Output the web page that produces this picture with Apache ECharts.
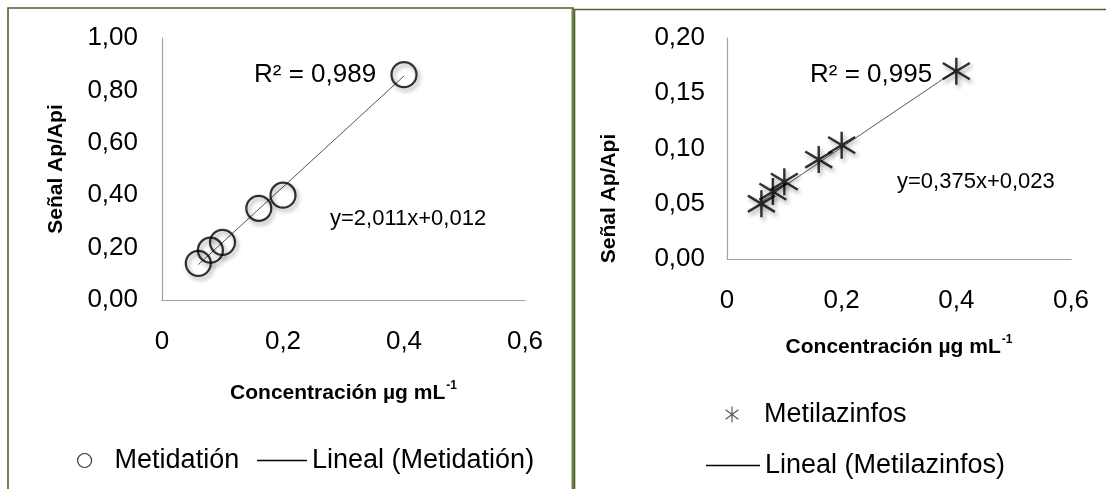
<!DOCTYPE html>
<html>
<head>
<meta charset="utf-8">
<script src="https://cdn.jsdelivr.net/npm/echarts@6/dist/echarts.min.js"></script>
<style>
html,body{margin:0;padding:0;background:#fff;}
#c{width:1106px;height:489px;}
</style>
</head>
<body>
<div id="c"></div>
<script>
// ---- data ----
const concentrations = [0.06, 0.08, 0.10, 0.16, 0.20, 0.40];
const metidation = [0.14, 0.19, 0.22, 0.35, 0.40, 0.86];
const metilazinfos = [0.05, 0.061, 0.07, 0.09, 0.103, 0.17];
const trendRange = [0.06, 0.40];
const trendMetidation = [0.135, 0.855];
const trendMetilazinfos = [0.052, 0.171];
const xTickLabels = ['0', '0,2', '0,4', '0,6'];
const leftYTickLabels = ['0,00', '0,20', '0,40', '0,60', '0,80', '1,00'];
const rightYTickLabels = ['0,00', '0,05', '0,10', '0,15', '0,20'];
const annotations = {
  r2Left: 'R² = 0,989', eqLeft: 'y=2,011x+0,012',
  r2Right: 'R² = 0,995', eqRight: 'y=0,375x+0,023'
};
const names = ['Metidatión', 'Lineal (Metidatión)', 'Metilazinfos', 'Lineal (Metilazinfos)'];

const FONT = '"Liberation Sans", Arial, sans-serif';
const starPath = 'path://M10,0L10,20M2,4L18,16M2,16L18,4';

function pairs(xs, ys) { return xs.map((x, i) => [x, ys[i]]); }

const chart = echarts.init(document.getElementById('c'));

function xAxisCfg(gi) {
  return {
    gridIndex: gi, type: 'value', min: 0, max: 0.6, interval: 0.2,
    axisLine: { show: true, lineStyle: { color: '#a0a0a0', width: 1.2 } },
    axisTick: { show: false }, splitLine: { show: false },
    axisLabel: { margin: 29, fontSize: 26, color: '#000', fontFamily: FONT,
      formatter: (v) => xTickLabels[Math.round(v / 0.2)] },
    name: '{a|Concentración µg mL}{s|-1}', nameLocation: 'middle', nameGap: gi === 0 ? 80 : 75,
    nameTextStyle: { fontFamily: FONT, rich: {
      a: { fontSize: 21, fontWeight: 'bold', color: '#000', fontFamily: FONT, lineHeight: 24, verticalAlign: 'bottom' },
      s: { fontSize: 12, fontWeight: 'bold', color: '#000', fontFamily: FONT, lineHeight: 24, verticalAlign: 'top', padding: [0, 0, 9, 1] }
    } }
  };
}
function yAxisCfg(gi, max, interval, labels, gap, margin, pad) {
  return {
    gridIndex: gi, type: 'value', min: 0, max: max, interval: interval,
    axisLine: { show: true, lineStyle: { color: '#a0a0a0', width: 1.2 } },
    axisTick: { show: false }, splitLine: { show: false },
    axisLabel: { margin: margin, fontSize: 26, color: '#000', fontFamily: FONT,
      formatter: (v) => labels[Math.round(v / interval)] },
    name: 'Señal Ap/Api', nameLocation: 'middle', nameGap: gap, nameRotate: 90,
    nameTextStyle: { fontSize: 21, fontWeight: 'bold', color: '#000', fontFamily: FONT, padding: pad }
  };
}

const shadow = { shadowBlur: 4, shadowColor: 'rgba(0,0,0,0.45)', shadowOffsetX: 2, shadowOffsetY: 3 };
const legendText = { fontSize: 27, color: '#000', fontFamily: FONT };

const option = {
  backgroundColor: '#fff',
  animation: false,
  textStyle: { fontFamily: FONT },
  grid: [
    { left: 162, top: 38, width: 363, height: 262 },
    { left: 727, top: 38, width: 344, height: 221 }
  ],
  xAxis: [xAxisCfg(0), xAxisCfg(1)],
  yAxis: [
    yAxisCfg(0, 1.0, 0.2, leftYTickLabels, 95, 24, [0, 0, 0, 0]),
    yAxisCfg(1, 0.2, 0.05, rightYTickLabels, 107, 22, [0, 100, 0, 0])
  ],
  legend: [
    { data: [{ name: names[0], icon: 'circle', itemStyle: { color: '#fff', borderColor: '#000', borderWidth: 1.2 } }],
      left: 77, top: 447, padding: 0, itemWidth: 14, itemHeight: 14,
      textStyle: Object.assign({ padding: [0, 0, 0, 18] }, legendText) },
    { data: [{ name: names[1], icon: 'rect', itemStyle: { color: '#000' } }],
      left: 257, top: 447, padding: 0, itemWidth: 50, itemHeight: 1.3,
      textStyle: legendText },
    { data: [{ name: names[2], icon: starPath, itemStyle: { color: 'transparent', borderColor: '#333', borderWidth: 1.2 } }],
      left: 725, top: 401, padding: 0, itemWidth: 16, itemHeight: 16,
      textStyle: Object.assign({ padding: [0, 0, 0, 19] }, legendText) },
    { data: [{ name: names[3], icon: 'rect', itemStyle: { color: '#000' } }],
      left: 706, top: 452, padding: 0, itemWidth: 54, itemHeight: 1.3,
      textStyle: legendText }
  ],
  series: [
    { name: names[1], type: 'line', xAxisIndex: 0, yAxisIndex: 0, data: pairs(trendRange, trendMetidation),
      symbol: 'none', color: '#000', lineStyle: { color: '#555', width: 1 }, z: 2 },
    { name: names[0], type: 'scatter', xAxisIndex: 0, yAxisIndex: 0, data: pairs(concentrations, metidation),
      symbol: 'circle', symbolSize: 25,
      itemStyle: Object.assign({ color: 'rgba(255,255,255,0)', borderColor: '#000', borderWidth: 2.2 }, shadow), z: 3 },
    { name: names[3], type: 'line', xAxisIndex: 1, yAxisIndex: 1, data: pairs(trendRange, trendMetilazinfos),
      symbol: 'none', color: '#000', lineStyle: { color: '#555', width: 1 }, z: 2 },
    { name: names[2], type: 'scatter', xAxisIndex: 1, yAxisIndex: 1, data: pairs(concentrations, metilazinfos),
      symbol: starPath, symbolSize: 27,
      itemStyle: Object.assign({ color: 'transparent', borderColor: '#000', borderWidth: 2.4 }, shadow), z: 3 }
  ],
  graphic: [
    { type: 'polyline', silent: true, shape: { points: [[8, 489], [8, 8], [573, 8], [573, 489]] },
      style: { stroke: '#4f6228', lineWidth: 1.6, fill: null } },
    { type: 'line', silent: true, shape: { x1: 571.5, y1: 9, x2: 571.5, y2: 489 },
      style: { stroke: '#b5c79a', lineWidth: 1 } },
    { type: 'polyline', silent: true, shape: { points: [[574.5, 489], [574.5, 9.5], [1106, 9.5]] },
      style: { stroke: '#4f6228', lineWidth: 1.6, fill: null } },
    { type: 'text', left: 254, top: 62, style: { text: annotations.r2Left, fontSize: 26, fill: '#000', fontFamily: FONT } },
    { type: 'text', left: 330, top: 208, style: { text: annotations.eqLeft, fontSize: 22, fill: '#000', fontFamily: FONT } },
    { type: 'text', left: 810, top: 62, style: { text: annotations.r2Right, fontSize: 26, fill: '#000', fontFamily: FONT } },
    { type: 'text', left: 897, top: 171, style: { text: annotations.eqRight, fontSize: 22, fill: '#000', fontFamily: FONT } }
  ]
};
chart.setOption(option);
</script>
</body>
</html>
